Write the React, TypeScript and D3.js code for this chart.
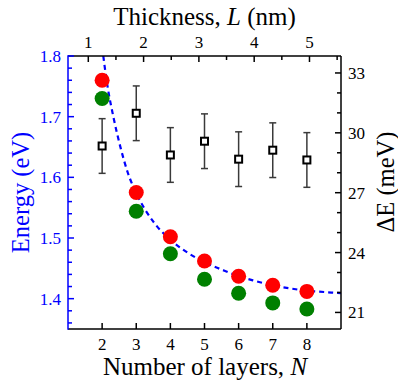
import React from 'react';
import * as d3 from 'd3';

// ---- data ----
const layersN = [2, 3, 4, 5, 6, 7, 8];
const energyRed = [1.760, 1.575, 1.502, 1.462, 1.437, 1.422, 1.412];
const energyGreen = [1.730, 1.544, 1.474, 1.432, 1.409, 1.393, 1.383];
const deltaE = [29.34, 30.98, 28.89, 29.58, 28.68, 29.13, 28.64];
const deltaEErr = [1.37, 1.37, 1.37, 1.37, 1.37, 1.37, 1.37];
const fitN = [2.0, 2.15, 2.34, 2.54, 2.75, 3.0, 3.5, 4.0, 4.5, 5.0, 5.5, 6.0, 6.5, 7.0, 7.5, 8.0, 8.5, 9.0];
const fitE = [1.815, 1.753, 1.697, 1.649, 1.608, 1.574, 1.527, 1.497, 1.476, 1.460, 1.448, 1.437, 1.429, 1.422, 1.417, 1.413, 1.411, 1.409];
const bottomTicks = [2, 3, 4, 5, 6, 7, 8];
const topTicks = [1, 2, 3, 4, 5];
const topMinor = [1.5, 2.5, 3.5, 4.5, 5.5];
const leftTicks = [1.4, 1.5, 1.6, 1.7, 1.8];
const leftMinor = [1.36, 1.38, 1.42, 1.44, 1.46, 1.48, 1.52, 1.54, 1.56, 1.58, 1.62, 1.64, 1.66, 1.68, 1.72, 1.74, 1.76, 1.78];
const rightTicks = [21, 24, 27, 30, 33];
const rightMinor = [22, 23, 25, 26, 28, 29, 31, 32];

const W = 398, H = 380;
const L = 68, R = 341, T = 56, B = 329;
const FONT = "'Liberation Serif'";

export default function App() {
  const x = d3.scaleLinear().domain([1, 9]).range([L, R]);
  const xTop = d3.scaleLinear().domain([0.633, 5.57]).range([L, R]);
  const yE = d3.scaleLinear().domain([1.35, 1.8]).range([B, T]);
  const yD = d3.scaleLinear().domain([20.17, 33.85]).range([B, T]);

  const fitLine = d3.line<number>()
    .x((_, i) => x(fitN[i]))
    .y((d) => yE(d))
    .curve(d3.curveMonotoneX)(fitE) || '';

  const blue = '#0000ff';
  const tickLab = 17;
  const tf = { fontFamily: FONT };

  return (
    <svg width={W} height={H} style={{ position: 'absolute', left: 0, top: 0, background: '#fff' }}>
      <defs>
        <clipPath id="plotclip">
          <rect x={L} y={T} width={R - L} height={B - T} />
        </clipPath>
      </defs>

      {/* fit curve */}
      <path d={fitLine} fill="none" stroke={blue} strokeWidth={2.2} strokeDasharray="5,4" clipPath="url(#plotclip)" />

      {/* error bars + squares */}
      {layersN.map((n, i) => {
        const cx = x(n);
        const y0 = yD(deltaE[i] - deltaEErr[i]);
        const y1 = yD(deltaE[i] + deltaEErr[i]);
        return (
          <g key={'e' + i} stroke="#3a3a3a" strokeWidth={1.5}>
            <line x1={cx} x2={cx} y1={y0} y2={y1} />
            <line x1={cx - 3.5} x2={cx + 3.5} y1={y0} y2={y0} />
            <line x1={cx - 3.5} x2={cx + 3.5} y1={y1} y2={y1} />
          </g>
        );
      })}
      {layersN.map((n, i) => (
        <rect key={'s' + i} x={x(n) - 3.5} y={yD(deltaE[i]) - 3.5} width={7} height={7}
          fill="#fff" stroke="#000" strokeWidth={2} />
      ))}

      {/* circles */}
      {layersN.map((n, i) => (
        <circle key={'g' + i} cx={x(n)} cy={yE(energyGreen[i])} r={7.5} fill="#008000" />
      ))}
      {layersN.map((n, i) => (
        <circle key={'r' + i} cx={x(n)} cy={yE(energyRed[i])} r={7.5} fill="#ff0000" />
      ))}

      {/* frame */}
      <line x1={L} x2={R} y1={T} y2={T} stroke="#000" strokeWidth={1.5} />
      <line x1={L} x2={R} y1={B} y2={B} stroke="#000" strokeWidth={1.5} />
      <line x1={R} x2={R} y1={T} y2={B} stroke="#000" strokeWidth={1.5} />
      <line x1={L} x2={L} y1={T - 0.75} y2={B + 0.75} stroke={blue} strokeWidth={1.5} />

      {/* bottom ticks */}
      {bottomTicks.map((t) => (
        <g key={'b' + t}>
          <line x1={x(t)} x2={x(t)} y1={B} y2={B - 6} stroke="#000" strokeWidth={1.5} />
          <text x={x(t)} y={350} textAnchor="middle" fontSize={tickLab} style={tf}>{t}</text>
        </g>
      ))}
      {/* top ticks */}
      {topTicks.map((t) => (
        <g key={'t' + t}>
          <line x1={xTop(t)} x2={xTop(t)} y1={T} y2={T + 6} stroke="#000" strokeWidth={1.5} />
          <text x={xTop(t)} y={48} textAnchor="middle" fontSize={tickLab} style={tf}>{t}</text>
        </g>
      ))}
      {topMinor.map((t) => (
        <line key={'tm' + t} x1={xTop(t)} x2={xTop(t)} y1={T} y2={T + 4} stroke="#000" strokeWidth={1.5} />
      ))}
      {/* left ticks */}
      {leftTicks.map((t) => (
        <g key={'l' + t}>
          <line x1={L} x2={L + 6} y1={yE(t)} y2={yE(t)} stroke={blue} strokeWidth={1.5} />
          <text x={61} y={yE(t)} dy="0.35em" textAnchor="end" fontSize={tickLab} fill={blue} style={tf}>{t.toFixed(1)}</text>
        </g>
      ))}
      {leftMinor.map((t) => (
        <line key={'lm' + t} x1={L} x2={L + 4} y1={yE(t)} y2={yE(t)} stroke={blue} strokeWidth={1.5} />
      ))}
      {/* right ticks */}
      {rightTicks.map((t) => (
        <g key={'r' + t}>
          <line x1={R} x2={R - 6} y1={yD(t)} y2={yD(t)} stroke="#000" strokeWidth={1.5} />
          <text x={348} y={yD(t)} dy="0.35em" textAnchor="start" fontSize={tickLab} style={tf}>{t}</text>
        </g>
      ))}
      {rightMinor.map((t) => (
        <line key={'rm' + t} x1={R} x2={R - 4} y1={yD(t)} y2={yD(t)} stroke="#000" strokeWidth={1.5} />
      ))}

      {/* axis titles */}
      <text x={204.5} y={25} textAnchor="middle" fontSize={25} style={tf}>
        Thickness, <tspan fontStyle="italic">L</tspan> (nm)
      </text>
      <text x={205} y={375} textAnchor="middle" fontSize={25} style={tf}>
        Number of layers,  <tspan fontStyle="italic">N</tspan>
      </text>
      <text transform={`translate(29,${(T + B) / 2}) rotate(-90)`} textAnchor="middle" fontSize={24.5} fill={blue} style={tf}>
        Energy (eV)
      </text>
      <text transform={`translate(394,182) rotate(-90)`} textAnchor="middle" fontSize={24.5} style={tf}>
        ΔE (meV)
      </text>
    </svg>
  );
}
